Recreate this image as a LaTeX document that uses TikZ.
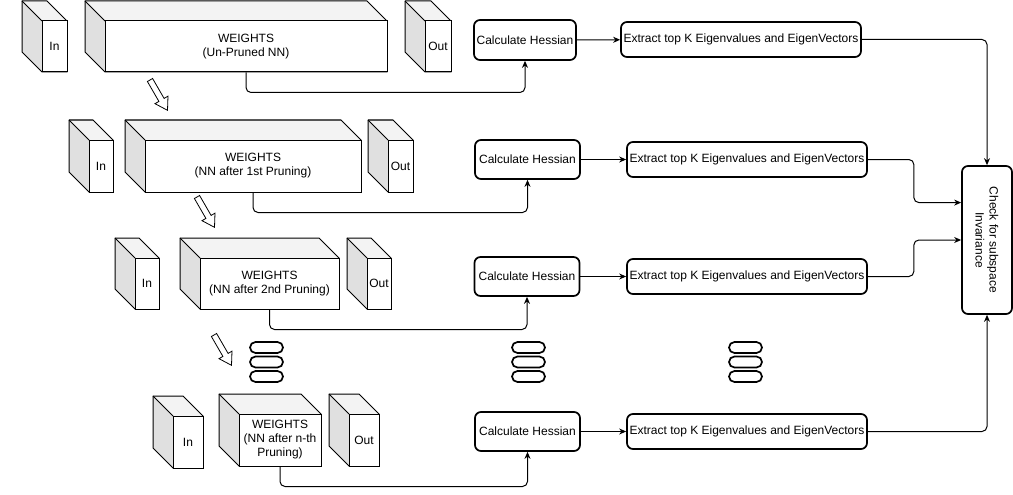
\documentclass[tikz,border=0pt]{standalone}
\usepackage{fontspec}
\setmainfont{Liberation Sans}
\usetikzlibrary{arrows.meta,calc}
\definecolor{sidegray}{HTML}{E0E0E0}
\definecolor{topgray}{HTML}{F3F3F3}
\tikzset{
  lbl/.style={font=\fontsize{12}{14}\selectfont, align=center},
  face/.style={lbl, draw=black, line width=1pt, fill=white, inner sep=0pt},
  cubeline/.style={draw=black, line width=1pt, line join=round},
  proc/.style={lbl, draw=black, line width=1.7pt, rounded corners=6pt, fill=white, inner sep=0pt},
  conn/.style={draw=black, line width=1pt, rounded corners=5pt, -{Stealth[length=7pt,width=6pt]}},
  plain/.style={draw=black, line width=1pt, rounded corners=5pt},
  stad/.style={draw=black, line width=1.7pt, rounded corners=5.5pt, minimum width=33pt, minimum height=11pt, inner sep=0pt},
  hollow/.style={draw=black, line width=0.8pt, fill=white, line join=miter},
}
% cube: name, x0, y0, x1, y1, text ; depth 20
\newcommand\mkcube[6]{%
  \fill[sidegray] (#2,#3) -- (#2+20,#3+20) -- (#2+20,#5) -- (#2,#5-20) -- cycle;
  \fill[topgray] (#2,#3) -- (#4-20,#3) -- (#4,#3+20) -- (#2+20,#3+20) -- cycle;
  \draw[cubeline] (#2,#3) -- (#4-20,#3) -- (#4,#3+20) -- (#4,#5) -- (#2+20,#5) -- (#2,#5-20) -- cycle;
  \draw[cubeline] (#2,#3) -- (#2+20,#3+20);
  \node[face, minimum width={#4-#2-20}, minimum height={#5-#3-20}] (#1) at ({(#2+20+#4)/2},{(#3+20+#5)/2}) {#6};
}
\newcommand\mkarrow[2]{%
  \draw[hollow, shift={(#1)}, rotate=#2] (0,-3) -- (23,-3) -- (23,-7.5) -- (35,0) -- (23,7.5) -- (23,3) -- (0,3) -- cycle;
}
\begin{document}
\begin{tikzpicture}[x=1pt,y=-1pt]
\useasboundingbox (0,0) rectangle (1013,495);

% ---- cubes ----
\mkcube{in1}{22}{1}{67}{72}{In}
\mkcube{w1}{85}{1}{387}{72}{WEIGHTS\\(Un-Pruned NN)}
\mkcube{out1}{405}{1}{451}{72}{Out}

\mkcube{in2}{69}{120}{113}{192}{In}
\mkcube{w2}{125}{120}{361}{192}{WEIGHTS\\(NN after 1st Pruning)}
\mkcube{out2}{368}{120}{413}{192}{Out}

\mkcube{in3}{115}{238}{159}{309}{In}
\mkcube{w3}{180}{238}{339}{309}{WEIGHTS\\(NN after 2nd Pruning)}
\mkcube{out3}{347}{238}{391}{309}{Out}

\mkcube{in4}{153}{396}{203}{468}{In}
\mkcube{w4}{219}{394}{321}{466}{WEIGHTS\\(NN after n-th\\Pruning)}
\mkcube{out4}{329}{394}{379}{466}{Out}

% ---- hollow arrows ----
\mkarrow{150,80}{-60}
\mkarrow{197,197}{-60}
\mkarrow{214,335}{-60}

% ---- process boxes ----
\node[proc, minimum width=102pt, minimum height=40pt] (c1) at (525,40) {Calculate Hessian};
\node[proc, minimum width=105pt, minimum height=39pt] (c2) at (527.5,159.5) {Calculate Hessian};
\node[proc, minimum width=105pt, minimum height=39pt] (c3) at (527,276.5) {Calculate Hessian};
\node[proc, minimum width=105pt, minimum height=39pt] (c4) at (527.5,431.5) {Calculate Hessian};

\node[proc, minimum width=240pt, minimum height=35pt] (e1) at (741,39.5) {Extract top K Eigenvalues and EigenVectors};
\node[proc, minimum width=240pt, minimum height=35pt] (e2) at (747,159.5) {Extract top K Eigenvalues and EigenVectors};
\node[proc, minimum width=240pt, minimum height=35pt] (e3) at (747,276.5) {Extract top K Eigenvalues and EigenVectors};
\node[proc, minimum width=240pt, minimum height=35pt] (e4) at (747,431.5) {Extract top K Eigenvalues and EigenVectors};

\node[proc, minimum width=50pt, minimum height=148pt] (chk) at (987,240) {};
\node[lbl, rotate=-90] (chktxt) at (chk.center) {Check for subspace\\Invariance};

% ---- stacks of ellipses ----
\foreach \sx/\nm in {266.5/a, 528.5/b, 745.5/c}{
  \node[stad] (s\nm1) at (\sx,347.5) {};
  \node[stad] (s\nm2) at (\sx,362) {};
  \node[stad] (s\nm3) at (\sx,376.5) {};
}

% ---- connectors ----
\draw[conn] (w1.south) -- ++(0,20) -| (c1.south);
\draw[conn] (w2.south) -- ++(0,20) -| (c2.south);
\draw[conn] (w3.south) -- ++(0,20) -| (c3.south);
\draw[conn] (w4.south) -- ++(0,20) -| (c4.south);

\draw[conn] (c1) -- (e1);
\draw[conn] (c2) -- (e2);
\draw[conn] (c3) -- (e3);
\draw[conn] (c4) -- (e4);

\draw[conn] (e1.east) -| (chk.north);
\draw[conn] (e2.east) -- ++(46,0) |- ($(chk.north west)!0.25!(chk.south west)$);
\draw[conn] (e3.east) -- ++(46,0) |- (chk.west);
\draw[conn] (e4.east) -| (chk.south);
\end{tikzpicture}
\end{document}
